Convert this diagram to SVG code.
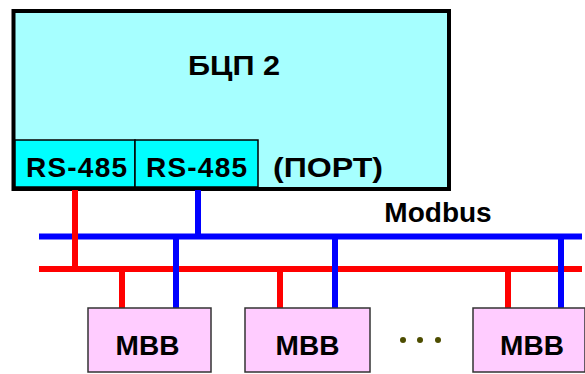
<svg xmlns="http://www.w3.org/2000/svg" width="585" height="374" viewBox="0 0 585 374">
<style>
text{font-family:"Liberation Sans",Arial,sans-serif;font-weight:bold;fill:#000}
.big{font-size:28px}
.port{fill:#00FFFF;stroke:#000;stroke-width:1.5}
.mbb{fill:#FFCCFF;stroke:#333;stroke-width:1.5}
.red{stroke:#FF0000;stroke-width:6;fill:none}
.blue{stroke:#0000FF;stroke-width:6;fill:none}
</style>
<g id="bcp">
<rect x="13.5" y="11" width="435.5" height="178" fill="#A6FFFF" stroke="#000" stroke-width="4"/>
<text class="big" x="188" y="75" textLength="92" lengthAdjust="spacingAndGlyphs">БЦП 2</text>
<text class="big" x="273" y="177" textLength="110" lengthAdjust="spacingAndGlyphs">(ПОРТ)</text>
</g>
<g id="port1">
<rect class="port" x="15" y="140" width="120" height="47"/>
<text class="big" x="26" y="177" textLength="101" lengthAdjust="spacing">RS-485</text>
</g>
<g id="port2">
<rect class="port" x="135" y="140" width="123" height="47"/>
<text class="big" x="146" y="177" textLength="101" lengthAdjust="spacing">RS-485</text>
</g>
<g id="connectors">
<line class="blue" x1="39" y1="236.5" x2="582" y2="236.5"/>
<line class="red" x1="39" y1="269" x2="582" y2="269"/>
<line class="red" x1="75" y1="190" x2="75" y2="272"/>
<line class="blue" x1="198" y1="190" x2="198" y2="239"/>
<line class="red" x1="122" y1="269" x2="122" y2="308"/>
<line class="blue" x1="176" y1="236.5" x2="176" y2="308"/>
<line class="red" x1="280" y1="269" x2="280" y2="308"/>
<line class="blue" x1="335" y1="236.5" x2="335" y2="308"/>
<line class="red" x1="508" y1="269" x2="508" y2="308"/>
<line class="blue" x1="561" y1="236.5" x2="561" y2="308"/>
</g>
<text id="modbus" class="big" x="438" y="222" text-anchor="middle">Modbus</text>
<g id="mbb1">
<rect class="mbb" x="88" y="308" width="123" height="64"/>
<text class="big" x="147.5" y="355" text-anchor="middle">MBB</text>
</g>
<g id="mbb2">
<rect class="mbb" x="245" y="308" width="125" height="64"/>
<text class="big" x="307.5" y="355" text-anchor="middle">MBB</text>
</g>
<g id="dots" fill="#4D4D00">
<circle cx="403" cy="340" r="3"/>
<circle cx="420" cy="340" r="3"/>
<circle cx="438" cy="340" r="3"/>
</g>
<g id="mbb3">
<rect class="mbb" x="473" y="308" width="112" height="64"/>
<text class="big" x="532" y="355" text-anchor="middle">MBB</text>
</g>
</svg>
